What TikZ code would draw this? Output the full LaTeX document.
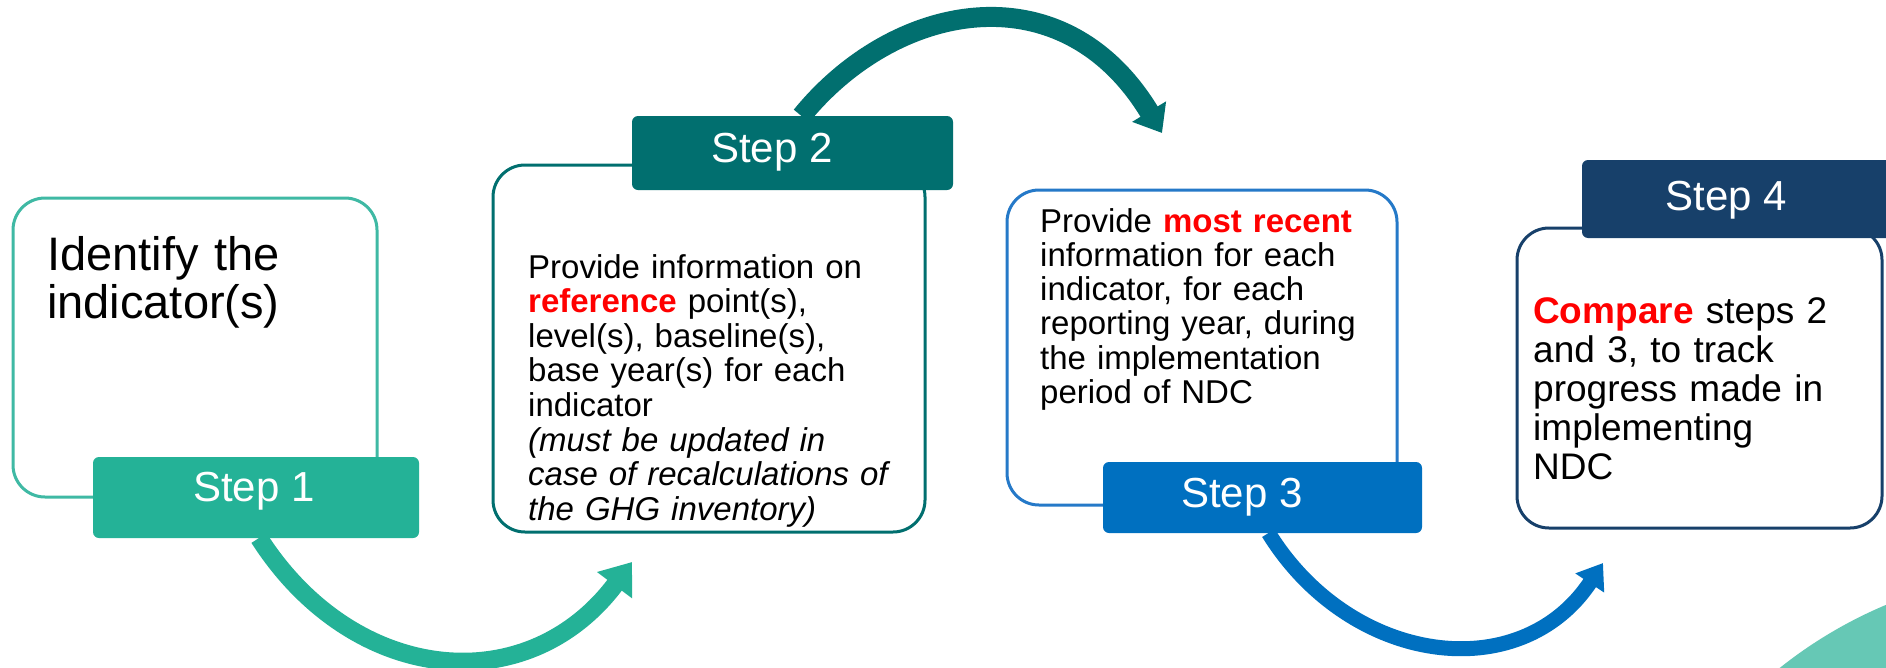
\documentclass[tikz,border=0pt]{standalone}
\usepackage{fontspec}
\setmainfont{Liberation Sans}
\usetikzlibrary{arrows.meta}
\definecolor{gA}{HTML}{24B297}
\definecolor{gAb}{HTML}{3FB9A4}
\definecolor{tB}{HTML}{016F6F}
\definecolor{bC}{HTML}{0070C0}
\definecolor{bCb}{HTML}{2579C8}
\definecolor{nD}{HTML}{17406A}
\definecolor{circ}{HTML}{66C8B5}
\definecolor{redt}{HTML}{FF0000}
\begin{document}
\begin{tikzpicture}[x=1pt,y=-1pt,
  card/.style={draw, line width=3pt, rounded corners=32pt, fill=white, inner sep=0pt, outer sep=0pt},
  tab/.style={rounded corners=6pt, inner sep=0pt, outer sep=0pt},
  tabtext/.style={text=white, font=\fontsize{42}{48}\selectfont, anchor=base, inner sep=0pt},
  body/.style={anchor=base west, inner sep=0pt, align=left, text width=480pt},
  flow/.style={line width=#1, line cap=butt},
]
\clip (0,0) rectangle (1886,667);
\fill[white] (0,0) rectangle (1886,667);
\fill[circ] (2060,1020) circle[radius=450pt];

% cards
\node[card, draw=gAb, minimum width=364pt, minimum height=299pt] (card1) at (195,347.5) {};
\node[card, draw=tB, minimum width=432pt, minimum height=367pt] (card2) at (709,348.5) {};
\node[card, draw=bCb, minimum width=390pt, minimum height=315pt] (card3) at (1202,347.5) {};
\node[card, draw=nD, minimum width=365pt, minimum height=300pt] (card4) at (1699.5,378) {};

% tabs
\node[tab, fill=gA, minimum width=326pt, minimum height=81pt] (tab1) at (256,497.5) {};
\node[tab, fill=tB, minimum width=321pt, minimum height=74pt] (tab2) at (792.5,153) {};
\node[tab, fill=bC, minimum width=319pt, minimum height=71pt] (tab3) at (1262.5,497.5) {};
\node[tab, fill=nD, minimum width=328pt, minimum height=78pt] (tab4) at (1746,199) {};

\node[tabtext] (s1) at (254,501) {Step 1};
\node[tabtext] (s2) at (772,162) {Step 2};
\node[tabtext] (s3) at (1242,507) {Step 3};
\node[tabtext] (s4) at (1726,210) {Step 4};

% texts
\node[body, font=\fontsize{47}{48}\selectfont] (t1) at (47,270) {Identify the\\indicator(s)};
\node[body, font=\fontsize{33}{34.6}\selectfont] (t2) at (528,278) {Provide information on\\
{\bfseries\color{redt}reference} point(s),\\
level(s), baseline(s),\\
base year(s) for each\\
indicator\\
\itshape (must be updated in\\
case of recalculations of\\
the GHG inventory)};
\node[body, font=\fontsize{33}{34.3}\selectfont] (t3) at (1040,232) {Provide {\bfseries\color{redt}most recent}\\
information for each\\
indicator, for each\\
reporting year, during\\
the implementation\\
period of NDC};
\node[body, font=\fontsize{37}{39.2}\selectfont] (t4) at (1533,323) {{\bfseries\color{redt}Compare} steps 2\\
and 3, to track\\
progress made in\\
implementing\\
NDC};

% arrows
\coordinate (e1) at (632,562);
\coordinate (e2) at (1162,133);
\coordinate (e3) at (1603,563);
\draw[flow=18pt, gA, -{Triangle[length=29pt,width=42pt]}] ([xshift=3pt]tab1.south) .. controls (353,685) and (527,702) .. (e1);
\draw[flow=20pt, tB, -{Triangle[length=25pt,width=38pt]}] ([xshift=9pt]tab2.north) .. controls (895,1) and (1063,-31) .. (e2);
\draw[flow=15pt, bC, -{Triangle[length=24pt,width=33pt]}] ([xshift=6pt]tab3.south) .. controls (1350,665) and (1520,688) .. (e3);
\end{tikzpicture}
\end{document}
